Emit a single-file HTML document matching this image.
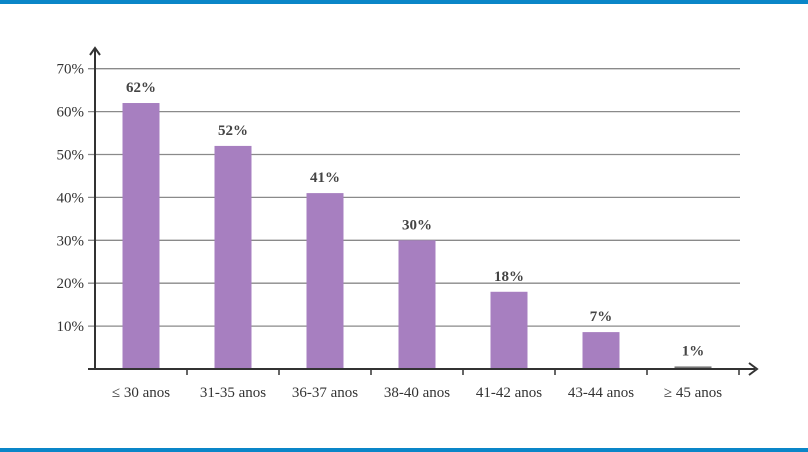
<!DOCTYPE html>
<html><head><meta charset="utf-8"><style>
body{margin:0;background:#fff;}
svg{display:block;font-family:"Liberation Serif",serif;}
</style></head><body>
<svg width="808" height="452" id="c">
<rect x="0" y="0" width="808" height="4" fill="#0a86c8"/>
<rect x="0" y="448" width="808" height="4" fill="#0a86c8"/>
<g id="grid"></g><g id="bars"></g><g id="axes"></g>
</svg>
<script>
const categories=["≤ 30 anos","31-35 anos","36-37 anos","38-40 anos","41-42 anos","43-44 anos","≥ 45 anos"];
const values=[62,52,41,30,18,8.6,0.6];
const valueLabels=["62%","52%","41%","30%","18%","7%","1%"];
const yTicks=[10,20,30,40,50,60,70];
const ns="http://www.w3.org/2000/svg";
const X0=95,BAND=92,BW=37,Y0=369,PX=4.29;
const y=v=>Y0-v*PX, xc=i=>X0+BAND*i+46;
function mk(t,a,p){const e=document.createElementNS(ns,t);for(const k in a)e.setAttribute(k,a[k]);p.appendChild(e);return e;}
const grid=document.getElementById('grid'),bars=document.getElementById('bars'),axes=document.getElementById('axes');
yTicks.forEach(t=>{
 const l=mk('line',{x1:88,x2:740,y1:y(t),y2:y(t),stroke:'#8a8a8a','stroke-width':1.3},grid);
 
 
 const tx=mk('text',{x:84,y:y(t)+5,'text-anchor':'end','font-size':15,fill:'#333'},grid);
 tx.textContent=t+'%';
 
 
});
values.forEach((v,i)=>{
 const h=Math.max(v*PX,1.5);
 const r=mk('rect',{x:xc(i)-BW/2,y:Y0-h,width:BW,height:h,fill:v<1?'#777':'#a77fc0'},bars);
 
 
 const t=mk('text',{x:xc(i),y:Y0-h-11,'text-anchor':'middle','font-size':15,'font-weight':'bold',fill:'#444'},bars);
 t.textContent=valueLabels[i];
 
 
 const c=mk('text',{x:xc(i),y:397,'text-anchor':'middle','font-size':15,fill:'#333'},bars);
 c.textContent=categories[i];
 
 
 const tk=mk('line',{x1:X0+BAND*(i+1),x2:X0+BAND*(i+1),y1:Y0,y2:Y0+6,stroke:'#333','stroke-width':1.5},axes);
 
 
});
const xa=mk('line',{x1:88,x2:755,y1:Y0,y2:Y0,stroke:'#333','stroke-width':2},axes);


const xh=mk('path',{d:'M749 363 L757 369 L749 375',fill:'none',stroke:'#333','stroke-width':2},axes);


const ya=mk('line',{x1:X0,x2:X0,y1:Y0,y2:50,stroke:'#333','stroke-width':2},axes);


const yh=mk('path',{d:'M90 55 L95 48 L100 55',fill:'none',stroke:'#333','stroke-width':2},axes);


</script>
</body></html>
